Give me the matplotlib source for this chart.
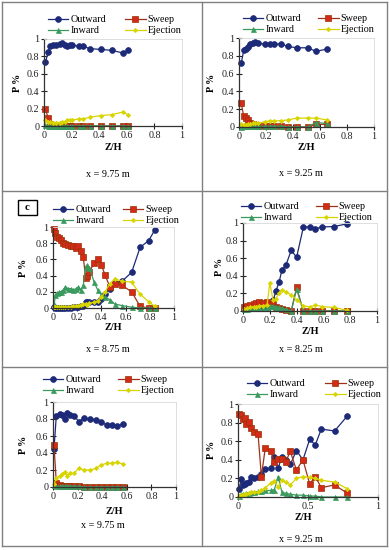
import matplotlib
matplotlib.use('Agg')
import matplotlib.pyplot as plt
from matplotlib.lines import Line2D
from matplotlib.patches import Rectangle

plt.rcParams['font.family'] = ['Liberation Serif', 'DejaVu Serif']

W, H = 390, 550

# ---------------- data ----------------
series_names = ['Outward', 'Sweep', 'Inward', 'Ejection']

# panel a : x = 9.75 m (top left)
z_a = [0.01, 0.03, 0.046, 0.066, 0.09, 0.114, 0.13, 0.15, 0.17, 0.187, 0.2, 0.25, 0.28, 0.33, 0.41, 0.49, 0.57, 0.61]
outward_a = [0.73, 0.85, 0.92, 0.93, 0.93, 0.94, 0.95, 0.93, 0.92, 0.93, 0.93, 0.92, 0.92, 0.89, 0.88, 0.87, 0.84, 0.87]
sweep_a = [0.2, 0.09, 0.02, 0.01, 0.0, 0.0, 0.0, 0.0, 0.0, 0.0, 0.0, 0.0, 0.0, 0.0, 0.0, 0.0, 0.0, 0.0]
inward_a = [0.01, 0.0, 0.0, 0.0, 0.0, 0.0, 0.0, 0.0, 0.0, 0.0, 0.0, 0.0, 0.0, 0.0, 0.0, 0.0, 0.0, 0.0]
ejection_a = [0.07, 0.05, 0.05, 0.04, 0.04, 0.04, 0.05, 0.05, 0.07, 0.07, 0.07, 0.08, 0.08, 0.1, 0.12, 0.13, 0.16, 0.13]

# panel b : x = 9.25 m (top right)
z_b = [0.017, 0.035, 0.05, 0.067, 0.084, 0.1, 0.12, 0.14, 0.19, 0.23, 0.26, 0.31, 0.36, 0.43, 0.51, 0.57, 0.65]
outward_b = [0.72, 0.86, 0.875, 0.9, 0.93, 0.94, 0.955, 0.94, 0.93, 0.93, 0.93, 0.935, 0.905, 0.89, 0.89, 0.85, 0.875]
sweep_b = [0.265, 0.12, 0.105, 0.075, 0.05, 0.03, 0.02, 0.01, 0.01, 0.01, 0.01, 0.01, 0.0, 0.0, 0.0, 0.03, 0.03]
inward_b = [0.0, 0.01, 0.01, 0.01, 0.01, 0.01, 0.01, 0.01, 0.01, 0.01, 0.01, 0.01, 0.0, 0.0, 0.0, 0.05, 0.04]
ejection_b = [0.03, 0.02, 0.02, 0.03, 0.03, 0.04, 0.04, 0.04, 0.06, 0.07, 0.07, 0.07, 0.08, 0.1, 0.1, 0.1, 0.08]

# panel c : x = 8.75 m (middle left)
z_c = [0.01, 0.02, 0.033, 0.05, 0.064, 0.083, 0.1, 0.124, 0.146, 0.166, 0.19, 0.21, 0.23, 0.25, 0.27, 0.28, 0.3, 0.34,
       0.37, 0.4, 0.43, 0.47, 0.51, 0.57, 0.65, 0.72, 0.79, 0.84]
outward_c = [0.01, 0.0, 0.0, 0.0, 0.0, 0.0, 0.0, 0.0, 0.0, 0.01, 0.01, 0.01, 0.02, 0.03, 0.08, 0.08, 0.075, 0.075,
             0.075, 0.11, 0.17, 0.24, 0.31, 0.33, 0.44, 0.75, 0.83, 0.96]
sweep_c = [0.97, 0.92, 0.88, 0.86, 0.84, 0.8, 0.79, 0.78, 0.76, 0.77, 0.74, 0.77, 0.7, 0.63, 0.37, 0.39, 0.45, 0.55,
           0.61, 0.53, 0.41, 0.26, 0.3, 0.28, 0.2, 0.02, 0.0, 0.0]
inward_c = [0.05, 0.16, 0.18, 0.2, 0.2, 0.22, 0.26, 0.24, 0.24, 0.22, 0.24, 0.26, 0.22, 0.28, 0.51, 0.53, 0.5, 0.32,
            0.22, 0.16, 0.14, 0.1, 0.05, 0.03, 0.01, 0.0, 0.0, 0.0]
ejection_c = [0.01, 0.01, 0.01, 0.01, 0.01, 0.01, 0.01, 0.01, 0.01, 0.02, 0.02, 0.03, 0.04, 0.05, 0.05, 0.04, 0.06, 0.07,
              0.09, 0.13, 0.2, 0.3, 0.36, 0.33, 0.32, 0.17, 0.08, 0.02]

# panel d : x = 8.25 m (middle right)
z_d = [0.01, 0.03, 0.05, 0.08, 0.1, 0.12, 0.15, 0.18, 0.2, 0.225, 0.245, 0.27, 0.29, 0.32, 0.36, 0.4, 0.45, 0.5, 0.54,
       0.59, 0.68, 0.775]
outward_d = [0.02, 0.03, 0.03, 0.03, 0.03, 0.03, 0.04, 0.05, 0.065, 0.12, 0.225, 0.33, 0.465, 0.52, 0.69, 0.61, 0.95,
             0.96, 0.935, 0.955, 0.96, 0.99]
sweep_d = [0.04, 0.06, 0.07, 0.08, 0.09, 0.1, 0.09, 0.1, 0.08, 0.08, 0.05, 0.03, 0.02, 0.01, 0.0, 0.27, 0.0, 0.0, 0.0,
           0.0, 0.0, 0.0]
inward_d = [0.02, 0.02, 0.03, 0.03, 0.03, 0.03, 0.04, 0.05, 0.06, 0.06, 0.05, 0.04, 0.03, 0.02, 0.0, 0.25, 0.0, 0.0,
            0.0, 0.0, 0.0, 0.0]
ejection_d = [0.02, 0.03, 0.04, 0.05, 0.05, 0.06, 0.06, 0.07, 0.32, 0.12, 0.14, 0.2, 0.24, 0.22, 0.18, 0.13, 0.06, 0.045,
              0.07, 0.05, 0.04, 0.01]

# panel e : x = 9.75 m (bottom left)
z_e = [0.008, 0.027, 0.055, 0.076, 0.095, 0.117, 0.14, 0.17, 0.21, 0.25, 0.3, 0.35, 0.39, 0.44, 0.48, 0.52, 0.57]
outward_e = [0.45, 0.84, 0.86, 0.85, 0.8, 0.87, 0.85, 0.84, 0.77, 0.81, 0.8, 0.785, 0.76, 0.73, 0.725, 0.715, 0.745]
sweep_e = [0.49, 0.05, 0.02, 0.01, 0.01, 0.01, 0.01, 0.01, 0.01, 0.0, 0.0, 0.0, 0.0, 0.0, 0.0, 0.0, 0.0]
inward_e = [0.02, 0.01, 0.01, 0.01, 0.01, 0.01, 0.01, 0.01, 0.01, 0.0, 0.0, 0.0, 0.0, 0.0, 0.0, 0.0, 0.0]
ejection_e = [0.03, 0.11, 0.13, 0.15, 0.18, 0.13, 0.16, 0.16, 0.22, 0.2, 0.2, 0.22, 0.26, 0.28, 0.28, 0.29, 0.27]

# panel f : x = 9.25 m (bottom right)
z_f = [0.007, 0.024, 0.036, 0.048, 0.06, 0.076, 0.095, 0.114, 0.143, 0.167, 0.195, 0.233, 0.26, 0.286, 0.314, 0.34,
       0.374, 0.417, 0.464, 0.512, 0.552, 0.595, 0.69, 0.78]
outward_f = [0.09, 0.19, 0.13, 0.14, 0.15, 0.16, 0.21, 0.2, 0.22, 0.25, 0.3, 0.31, 0.43, 0.31, 0.43, 0.4, 0.35, 0.5,
             0.4, 0.62, 0.56, 0.73, 0.71, 0.87]
sweep_f = [0.89, 0.88, 0.84, 0.85, 0.78, 0.81, 0.74, 0.7, 0.68, 0.22, 0.53, 0.49, 0.38, 0.41, 0.41, 0.38, 0.49, 0.29,
           0.4, 0.14, 0.22, 0.1, 0.13, 0.04]
inward_f = [0.01, 0.03, 0.03, 0.03, 0.04, 0.04, 0.05, 0.05, 0.06, 0.06, 0.07, 0.07, 0.08, 0.22, 0.05, 0.04, 0.03, 0.02,
            0.02, 0.01, 0.01, 0.0, 0.0, 0.0]
ejection_f = [0.01, 0.02, 0.02, 0.03, 0.03, 0.04, 0.05, 0.05, 0.05, 0.07, 0.1, 0.15, 0.17, 0.11, 0.18, 0.16, 0.13, 0.2,
              0.22, 0.21, 0.2, 0.18, 0.16, 0.09]

captions = ['x = 9.75 m', 'x = 9.25 m', 'x = 8.75 m', 'x = 8.25 m', 'x = 9.75 m', 'x = 9.25 m']
yticks = [0, 0.2, 0.4, 0.6, 0.8, 1]
yticklabels = ['0', '0.2', '0.4', '0.6', '0.8', '1']
xticks_fine = [0, 0.2, 0.4, 0.6, 0.8, 1]
xticklabels_fine = ['0', '0.2', '0.4', '0.6', '0.8', '1']
xticks_coarse = [0, 0.5, 1]
xticklabels_coarse = ['0', '0.5', '1']

# ---------------- styles ----------------
styles = {
    'Outward': dict(color='#1c2a78', marker='o', ms=4.2, mfc='#1c2a78', mec='#1c2a78'),
    'Sweep': dict(color='#a0301a', marker='s', ms=4.0, mfc='#d42a1a', mec='#993300'),
    'Inward': dict(color='#3a9a5e', marker='^', ms=3.6, mfc='#3a9a5e', mec='#3a9a5e'),
    'Ejection': dict(color='#d8d400', marker='D', ms=2.2, mfc='#d8d400', mec='#d8d400'),
}

FS = 7.3

def fx(x):
    return x / W

def fy(y):
    return 1 - y / H

# layout in pixel units (left, right, top, bottom)
panels = [
    dict(z=z_a, data=[outward_a, sweep_a, inward_a, ejection_a], box=(44, 182, 39, 126),
         cap=(108, 175), ylab=(17, 83), xlab=(113, 147), leg=(48, 15, 1.9), xt=0),
    dict(z=z_b, data=[outward_b, sweep_b, inward_b, ejection_b], box=(239, 374, 38, 127),
         cap=(301, 174), ylab=(212, 83), xlab=(306, 148), leg=(243, 14, 1.7), xt=0),
    dict(z=z_c, data=[outward_c, sweep_c, inward_c, ejection_c], box=(53, 174, 227, 308),
         cap=(108, 349), ylab=(24, 268), xlab=(113, 328), leg=(53, 205, 1.2), xt=0),
    dict(z=z_d, data=[outward_d, sweep_d, inward_d, ejection_d], box=(243, 377, 223, 311),
         cap=(301, 349), ylab=(219, 267), xlab=(310, 331), leg=(241, 202, 1.7), xt=0),
    dict(z=z_e, data=[outward_e, sweep_e, inward_e, ejection_e], box=(53, 176, 402, 487),
         cap=(103, 526), ylab=(23, 445), xlab=(114, 511), leg=(43, 375, 1.7), xt=0),
    dict(z=z_f, data=[outward_f, sweep_f, inward_f, ejection_f], box=(238, 378, 404, 497),
         cap=(301, 540), ylab=(211, 450), xlab=(303, 517), leg=(247, 379, 2.0), xt=1),
]

fig = plt.figure(figsize=(W / 100, H / 100), dpi=100)

for i, p in enumerate(panels):
    l, r, t, b = p['box']
    ax = fig.add_axes([fx(l), fy(b), (r - l) / W, (b - t) / H])
    handles = []
    for name, vals in zip(series_names, p['data']):
        st = styles[name]
        ln, = ax.plot(p['z'], vals, color=st['color'], lw=0.9, marker=st['marker'], ms=st['ms'],
                      mfc=st['mfc'], mec=st['mec'], mew=0.5, clip_on=False, label=name)
        handles.append(ln)
    ax.set_xlim(0, 1)
    ax.set_ylim(0, 1)
    if p['xt'] == 0:
        ax.set_xticks(xticks_fine)
        ax.set_xticklabels(xticklabels_fine)
    else:
        ax.set_xticks(xticks_coarse)
        ax.set_xticklabels(xticklabels_coarse)
    ax.set_yticks(yticks)
    ax.set_yticklabels(yticklabels)
    ax.tick_params(direction='inout', length=4, width=0.8, labelsize=FS, pad=1.5, colors='#222222')
    for s in ['left', 'bottom']:
        ax.spines[s].set_color('#333333')
        ax.spines[s].set_linewidth(0.9)
    for s in ['top', 'right']:
        ax.spines[s].set_color('#d9d9d9')
        ax.spines[s].set_linewidth(0.6)
    ax.set_facecolor('white')

    # legend (column-major: Outward, Inward | Sweep, Ejection)
    lx, ly, cs = p['leg']
    order = [handles[0], handles[2], handles[1], handles[3]]
    fig.legend(order, [h.get_label() for h in order], ncol=2, loc='upper left',
               bbox_to_anchor=(fx(lx), fy(ly)), bbox_transform=fig.transFigure,
               frameon=False, fontsize=FS, handlelength=2.0, handletextpad=0.2,
               columnspacing=cs, labelspacing=0.2, borderpad=0, borderaxespad=0)

    fig.text(fx(p['ylab'][0]), fy(p['ylab'][1]), 'P %', rotation=90, ha='center', va='center',
             fontsize=FS, fontweight='bold')
    fig.text(fx(p['xlab'][0]), fy(p['xlab'][1]), 'Z/H', ha='center', va='center',
             fontsize=FS, fontweight='bold')
    fig.text(fx(p['cap'][0]), fy(p['cap'][1]), captions[i], ha='center', va='center', fontsize=FS)

# panel tag "c"
fig.add_artist(Rectangle((fx(18), fy(215)), (37 - 18) / W, (215 - 200) / H, transform=fig.transFigure,
                         fill=False, edgecolor='black', lw=1.0))
fig.text(fx(27.5), fy(207.5), 'c', ha='center', va='center', fontsize=FS + 0.5, fontweight='bold')

# table grid lines
gcol = '#808080'
lines = [
    ((2, 387), (2, 2)), ((2, 387), (546, 546)), ((2, 2), (2, 546)), ((387, 387), (2, 546)),
    ((2, 387), (191, 191)), ((2, 387), (367, 367)), ((202, 202), (2, 546)),
]
for xs, ys in lines:
    fig.add_artist(Line2D([fx(xs[0]), fx(xs[1])], [fy(ys[0]), fy(ys[1])], transform=fig.transFigure,
                          color=gcol, lw=1.0))

fig.savefig('out.png', dpi=100)
